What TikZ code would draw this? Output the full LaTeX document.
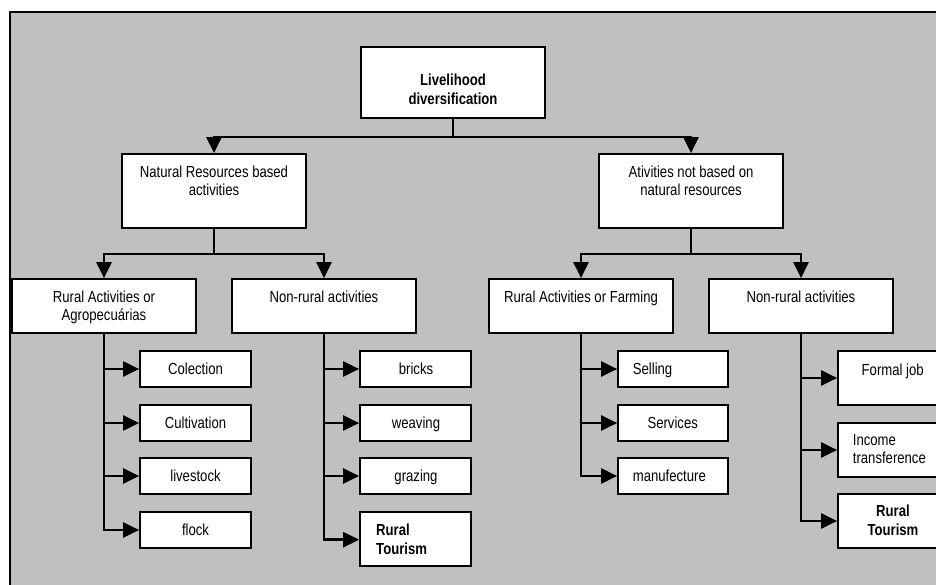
\documentclass[tikz,border=0pt]{standalone}
\usepackage{fontspec}
\setmainfont{Liberation Sans}[FakeStretch=0.82]
\usetikzlibrary{arrows.meta,fit}
\definecolor{bggray}{HTML}{C0C0C0}
\newcommand\fs{\fontsize{16}{18.7}\selectfont}
\newcommand\twoc[2]{\begin{tabular}[t]{@{}c@{}}#1\\#2\end{tabular}}
\newcommand\twol[2]{\begin{tabular}[t]{@{}l@{}}#1\\#2\end{tabular}}
\begin{document}
\begin{tikzpicture}[x=1pt,y=-1pt,
  box/.style={draw=black, line width=1.7pt, fill=white, inner sep=0pt},
  conn/.style={line width=2.6pt, -{Triangle[length=16pt,width=15pt]}},
  txt/.style={anchor=base, inner sep=0pt, font=\fs},
  txtl/.style={anchor=base west, inner sep=0pt, font=\fs},
  bold/.style={font=\fs\bfseries}]
\useasboundingbox (0,0) rectangle (936,585);
\clip (0,0) rectangle (936,585);
\fill[white] (0,0) rectangle (936,585);
\filldraw[fill=bggray, draw=black, line width=1.2pt] (10,12) rectangle (960,600);

% boxes
\node[box, fit={(361,47)(545,118)}] (top) {};
\node[box, fit={(122,154)(306,228)}] (nr) {};
\node[box, fit={(599,154)(783,228)}] (an) {};
\node[box, fit={(12,279)(196,333)}] (ra) {};
\node[box, fit={(232,279)(416,333)}] (nrl) {};
\node[box, fit={(489,279)(673,333)}] (rf) {};
\node[box, fit={(709,279)(893,333)}] (nrr) {};
\node[box, fit={(140,351)(251,387)}] (c1) {};
\node[box, fit={(140,405)(251,441)}] (c2) {};
\node[box, fit={(140,458)(251,494)}] (c3) {};
\node[box, fit={(140,512)(251,548)}] (c4) {};
\node[box, fit={(360,351)(471,387)}] (b1) {};
\node[box, fit={(360,405)(471,441)}] (b2) {};
\node[box, fit={(360,458)(471,494)}] (b3) {};
\node[box, fit={(360,512)(471,566)}] (b4) {};
\node[box, fit={(618,351)(728,387)}] (s1) {};
\node[box, fit={(618,405)(728,441)}] (s2) {};
\node[box, fit={(618,458)(728,494)}] (s3) {};
\node[box, fit={(838,351)(952,405)}] (f1) {};
\node[box, fit={(838,423)(952,477)}] (f2) {};
\node[box, fit={(838,494)(952,548)}] (f3) {};

% connectors
\draw[conn] (top.south) -- ++(0,18) -| (nr.north);
\draw[conn] (top.south) -- ++(0,18) -| (an.north);
\draw[conn] (nr.south) -- ++(0,25) -| (ra.north);
\draw[conn] (nr.south) -- ++(0,25) -| (nrl.north);
\draw[conn] (an.south) -- ++(0,25) -| (rf.north);
\draw[conn] (an.south) -- ++(0,25) -| (nrr.north);

\draw[conn] (ra.south) |- (c4.west);
\draw[conn] (ra.south |- c1.west) -- (c1.west);
\draw[conn] (ra.south |- c2.west) -- (c2.west);
\draw[conn] (ra.south |- c3.west) -- (c3.west);

\draw[conn] (nrl.south) |- ([yshift=-0.7pt]b4.west);
\draw[conn] (nrl.south |- b1.west) -- (b1.west);
\draw[conn] (nrl.south |- b2.west) -- (b2.west);
\draw[conn] (nrl.south |- b3.west) -- (b3.west);

\draw[conn] (rf.south) |- (s3.west);
\draw[conn] (rf.south |- s1.west) -- (s1.west);
\draw[conn] (rf.south |- s2.west) -- (s2.west);

\draw[conn] (nrr.south) |- (f3.west);
\draw[conn] (nrr.south |- f1.west) -- (f1.west);
\draw[conn] (nrr.south |- f2.west) -- (f2.west);

% texts
\node[txt, bold] (t-top) at (453,85.5) {\twoc{Livelihood}{diversification}};
\node[txt] (t-nr) at (214,177.3) {\twoc{Natural Resources based}{activities}};
\node[txt] (t-an) at (691,177.3) {\twoc{Ativities not based on}{natural resources}};
\node[txt] (t-ra) at (104,302) {\twoc{Rural Activities or}{Agropecuárias}};
\node[txt] (t-nrl) at (324,302) {Non-rural activities};
\node[txt] (t-rf) at (581,302) {Rural Activities or Farming};
\node[txt] (t-nrr) at (801,302) {Non-rural activities};

\node[txt] (t-c1) at (195.5,374.7) {Colection};
\node[txt] (t-c2) at (195.5,428.7) {Cultivation};
\node[txt] (t-c3) at (195.5,481.7) {livestock};
\node[txt] (t-c4) at (195.5,535.7) {flock};

\node[txt] (t-b1) at (416,374.7) {bricks};
\node[txt] (t-b2) at (416,428.7) {weaving};
\node[txt] (t-b3) at (416,481.7) {grazing};
\node[txtl, bold] (t-b4) at (376,535.5) {\twol{Rural}{Tourism}};

\node[txtl] (t-s1) at (632.7,374.7) {Selling};
\node[txt] (t-s2) at (672.7,428.7) {Services};
\node[txtl] (t-s3) at (632.7,481.7) {manufecture};

\node[txt] (t-f1) at (892.7,375) {Formal job};
\node[txtl] (t-f2) at (852.7,445) {\twol{Income}{transference}};
\node[txt, bold] (t-f3) at (893,516.7) {\twoc{Rural}{Tourism}};
\end{tikzpicture}
\end{document}
